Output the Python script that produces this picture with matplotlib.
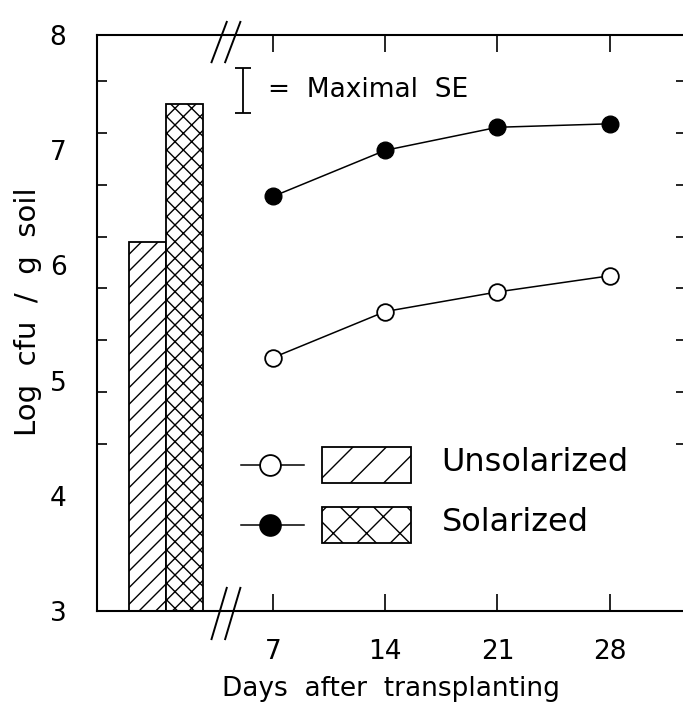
import numpy as np
import matplotlib.pyplot as plt
from matplotlib.patches import Rectangle
from matplotlib.lines import Line2D

plt.rcParams['font.family'] = ['DejaVu Sans']
plt.rcParams['hatch.linewidth'] = 1.0

# data
days = [7, 14, 21, 28]
unsolarized = [5.2, 5.6, 5.77, 5.91]
solarized = [6.6, 7.0, 7.2, 7.23]
bar_labels = ['Unsolarized', 'Solarized']
bar_values = [6.2, 7.4]
bar_hatches = ['//', 'xx']
legend_hatches = ['/', 'x']
max_se = 0.39
y_labels = [3, 4, 5, 6, 7, 8]
y_tick_marks = [4.0, 4.45, 4.9, 5.35, 5.8, 6.25, 6.7, 7.15, 7.6]

fig = plt.figure(figsize=(6.83, 7.03), dpi=100)
ax = fig.add_axes([0.142, 0.131, 0.862, 0.819])

ax.set_xlim(-4.0, 32.75)
ax.set_ylim(3, 8)

# bars for time zero
bar_x = [-0.85, 1.47]
for x, v, h in zip(bar_x, bar_values, bar_hatches):
    ax.bar(x, v - 3, bottom=3, width=2.32, color='white', edgecolor='black',
           hatch=h, linewidth=1.3, zorder=2)

# lines
ax.plot(days, unsolarized, '-o', color='black', mfc='white', mec='black',
        ms=12, lw=1.1, mew=1.3, zorder=3)
ax.plot(days, solarized, '-o', color='black', mfc='black', mec='black',
        ms=12, lw=1.1, zorder=3)

# ticks
ax.set_xticks(days)
ax.set_xticklabels([str(d) for d in days])
ax.set_yticks(y_labels)
ax.set_yticks(y_tick_marks, minor=True)
ax.tick_params(axis='x', direction='in', length=12, width=1.2, top=True,
               labelsize=19, pad=20)
ax.tick_params(axis='y', which='major', length=0, labelsize=19, pad=22)
ax.tick_params(axis='y', which='minor', direction='in', length=7, width=1.2,
               right=True)
for s in ax.spines.values():
    s.set_linewidth(1.5)

ax.set_xlabel('Days  after  transplanting', fontsize=19, labelpad=8)
ax.set_ylabel('Log  cfu  /  g  soil', fontsize=21)
ax.yaxis.set_label_coords(-0.093, 0.52)

# axis break marks
breaks = [(1, -0.047, 0.023), (0, -0.049, 0.040)]
for yb, lo, hi in breaks:
    for dx in [0, 0.85]:
        ax.plot([3.15 + dx, 4.1 + dx], [yb + lo, yb + hi],
                transform=ax.get_xaxis_transform(), color='black',
                lw=1.4, clip_on=False)

# maximal SE bar
ax.errorbar(5.1, 7.52, yerr=max_se / 2, color='black', capsize=6, lw=1.3,
            capthick=1.3)
ax.text(6.7, 7.52, '=  Maximal  SE', fontsize=19, va='center')

# manual legend
legend_rows = [(0.253, 'white', legend_hatches[0], bar_labels[0]),
               (0.149, 'black', legend_hatches[1], bar_labels[1])]
for y, fc, h, lab in legend_rows:
    ax.add_line(Line2D([0.245, 0.352], [y, y], transform=ax.transAxes,
                       color='black', lw=1.1))
    ax.add_line(Line2D([0.294], [y], transform=ax.transAxes, marker='o',
                       ms=15, mfc=fc, mec='black', mew=1.3))
    ax.add_patch(Rectangle((0.383, y - 0.031), 0.15, 0.062,
                           transform=ax.transAxes, facecolor='white',
                           edgecolor='black', hatch=h, lw=1.3))
    ax.text(0.585, y + 0.004, lab, transform=ax.transAxes, fontsize=23,
            va='center')

fig.savefig('out.png', dpi=100)
